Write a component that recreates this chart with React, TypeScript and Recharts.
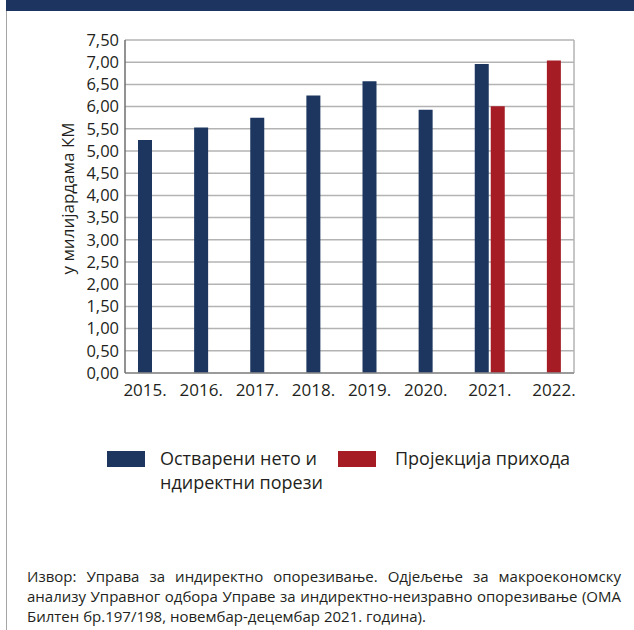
import React from 'react';
import { BarChart, Bar, XAxis, YAxis, CartesianGrid } from 'recharts';

const years = ['2015.', '2016.', '2017.', '2018.', '2019.', '2020.', '2021.', '2022.'];
const netTaxes = [5.25, 5.53, 5.75, 6.25, 6.57, 5.93, 6.96, null];
const projection = [null, null, null, null, null, null, 6.01, 7.04];
const yTicks = [0, 0.5, 1, 1.5, 2, 2.5, 3, 3.5, 4, 4.5, 5, 5.5, 6, 6.5, 7, 7.5];

const seriesNames = ['Остварени нето и ндиректни порези', 'Пројекција прихода'];
const seriesColors = ['#1c365f', '#a51c24'];
const yAxisTitle = 'у милијардама КМ';
const sourceLines = [
  'Извор: Управа за индиректно опорезивање. Одјељење за макроекономску',
  'анализу Управног одбора Управе за индиректно-неизравно опорезивање (ОМА',
  'Билтен бр.197/198, новембар-децембар 2021. година).',
];

const data = years.map((year, i) => ({
  year,
  net: netTaxes[i],
  proj: projection[i],
}));

const FONT = '"Open Sans", "Noto Sans", sans-serif';
const TEXT = '#231f20';
const BAR_SIZE = 14;
const BAR_GAP = 2;

const formatTick = (v: number) => v.toFixed(2).replace('.', ',');

// label sits under whichever bars exist for that year
const YearTick = (props: any) => {
  const { x, y, payload } = props;
  const row = data[payload.index];
  const hasNet = row.net != null;
  const hasProj = row.proj != null;
  const shift = hasNet && hasProj ? 0 : hasNet ? -(BAR_SIZE + BAR_GAP) / 2 : (BAR_SIZE + BAR_GAP) / 2;
  return (
    <text x={x + shift} y={y} dy="0.9em" textAnchor="middle" fill={TEXT} fontSize={17} fontFamily={FONT}>
      {payload.value}
    </text>
  );
};

export default function App() {
  return (
    <div style={{ position: 'absolute', left: 0, top: 0, width: 634, height: 630, background: '#fff', fontFamily: FONT, color: TEXT }}>
      <div style={{ position: 'absolute', left: 6, top: 0, width: 628, height: 11, background: '#1d3461' }} />
      <div style={{ position: 'absolute', left: 6, top: 11, width: 1, height: 619, background: '#a6a6a6' }} />

      <BarChart
        width={634}
        height={420}
        data={data}
        margin={{ top: 40, right: 60, left: 0, bottom: 17 }}
        barSize={BAR_SIZE}
        barGap={BAR_GAP}
        style={{ position: 'absolute', left: 0, top: 0 }}
      >
        <CartesianGrid
          stroke="#b3b3b3"
          strokeWidth={1.5}
          verticalCoordinatesGenerator={({ offset }: any) => [offset.left + offset.width]}
        />
        <XAxis
          dataKey="year"
          tickLine={false}
          axisLine={{ stroke: '#8c8c8c', strokeWidth: 1.5 }}
          interval={0}
          height={30}
          tick={<YearTick />}
        />
        <YAxis
          domain={[0, 7.5]}
          ticks={yTicks}
          interval={0}
          width={125}
          tickLine={false}
          tickSize={4}
          tickMargin={2}
          tickFormatter={formatTick}
          axisLine={{ stroke: '#6e6e6e', strokeWidth: 1.5 }}
          tick={{ fill: TEXT, fontSize: 16.5, fontFamily: FONT }}
          label={{
            value: yAxisTitle,
            angle: -90,
            position: 'center',
            dx: 5,
            dy: -8,
            fill: TEXT,
            fontSize: 17,
            fontFamily: FONT,
          }}
        />
        <Bar dataKey="net" name={seriesNames[0]} fill={seriesColors[0]} isAnimationActive={false} />
        <Bar dataKey="proj" name={seriesNames[1]} fill={seriesColors[1]} isAnimationActive={false} />
      </BarChart>

      {seriesNames.map((name, i) => (
        <div
          key={name}
          style={{ position: 'absolute', left: i === 0 ? 107 : 338, top: 451, display: 'flex', alignItems: 'flex-start' }}
        >
          <div style={{ width: 38, height: 16, background: seriesColors[i], flexShrink: 0 }} />
          <div style={{ marginLeft: i === 0 ? 15 : 19, marginTop: -5, fontSize: 18, lineHeight: '24px', width: i === 0 ? 185 : 210 }}>
            {name}
          </div>
        </div>
      ))}

      <div style={{ position: 'absolute', left: 27, top: 566, width: 594, fontSize: 15, lineHeight: '20px' }}>
        {sourceLines.map((line, i) => (
          <div key={i} style={{ textAlign: 'justify', textAlignLast: i < sourceLines.length - 1 ? 'justify' : 'left', whiteSpace: 'nowrap' }}>
            {line}
          </div>
        ))}
      </div>
    </div>
  );
}
